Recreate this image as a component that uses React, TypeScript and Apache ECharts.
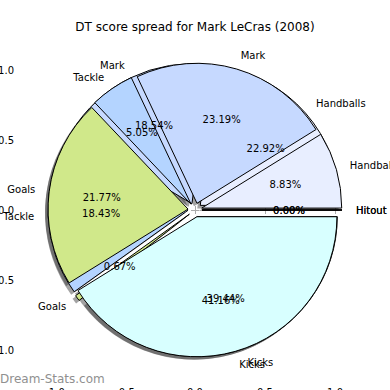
import React, { useEffect, useRef } from "react";
import * as echarts from "echarts";

const categories = ["Hitout", "Handballs", "Mark", "Tackle", "Goals", "Kicks"];
// first pie (drawn underneath)
const pieUnder = [0.0, 22.92, 18.54, 18.43, 0.67, 39.44];
// second pie (drawn on top)
const pieOver = [0.0, 8.83, 23.19, 5.05, 21.77, 41.16];
const sliceColors = ["#ffdede", "#e8eeff", "#c6d9ff", "#b4d4ff", "#d0e88a", "#d8ffff"];
const axisTicks = [-1, -0.5, 0, 0.5, 1];
const titleText = "DT score spread for Mark LeCras (2008)";
const watermarkText = "Dream-Stats.com";

const FONT = "DejaVu Sans";
const CX = 195;
const CY = 210;
const R = 140;
const OFF = 7;

function fmtTick(v: number) {
  return (v < 0 ? "-" : "") + Math.abs(v).toFixed(1);
}

function makeData(vals: number[], withColor: boolean) {
  return categories.map((c, i) => {
    const item: any = { name: c, value: vals[i], selected: true };
    if (withColor) {
      item.itemStyle = { color: sliceColors[i] };
      item.select = { itemStyle: { color: sliceColors[i], borderColor: "#000", borderWidth: 1 } };
    }
    return item;
  });
}

const pieBase = {
  type: "pie",
  startAngle: 0,
  clockwise: false,
  selectedMode: "multiple",
  selectedOffset: OFF,
  avoidLabelOverlap: false,
  stillShowZeroSum: true,
  minShowLabelAngle: 0,
  silent: true,
  emphasis: { disabled: true },
  labelLayout: { hideOverlap: false },
  animation: false,
};

function shadowSeries(vals: number[]) {
  return {
    ...pieBase,
    center: [CX - 3, CY + 3],
    radius: [0, R],
    data: makeData(vals, false),
    itemStyle: { color: "rgba(50,50,50,0.45)", borderWidth: 0 },
    select: { itemStyle: { color: "rgba(50,50,50,0.45)", borderWidth: 0 } },
    label: { show: false },
    labelLine: { show: false },
  };
}

function nameSeries(vals: number[]) {
  return {
    ...pieBase,
    center: [CX, CY],
    radius: [0, R],
    data: makeData(vals, true),
    itemStyle: { borderColor: "#000", borderWidth: 1 },
    label: {
      show: true,
      position: "outside",
      formatter: "{b}",
      fontFamily: FONT,
      fontSize: 10,
      color: "#000",
      width: 90,
      overflow: "none",
      distanceToLabelLine: 0,
    },
    labelLine: { show: false, length: 14, length2: 0 },
  };
}

function pctSeries(vals: number[]) {
  return {
    ...pieBase,
    center: [CX, CY],
    radius: [0, R * 1.2],
    data: makeData(vals, false),
    itemStyle: { color: "transparent", borderWidth: 0 },
    select: { itemStyle: { color: "transparent", borderWidth: 0 } },
    label: {
      show: true,
      position: "inside",
      formatter: (p: any) => Number(p.value).toFixed(2) + "%",
      fontFamily: FONT,
      fontSize: 10,
      color: "#000",
      width: 90,
      overflow: "none",
    },
    labelLine: { show: false },
  };
}

const tickStyle = { show: true, inside: true, length: 4, lineStyle: { color: "#aaaaaa", width: 1 }, customValues: axisTicks };

export default function App() {
  const ref = useRef<HTMLDivElement>(null);
  useEffect(() => {
    if (!ref.current) return;
    const chart = echarts.init(ref.current, null, { renderer: "svg" });
    chart.setOption({
      animation: false,
      backgroundColor: "#ffffff",
      title: {
        text: titleText,
        left: "center",
        top: 16,
        textStyle: { fontFamily: FONT, fontSize: 12, fontWeight: "normal", color: "#000" },
      },
      grid: { left: 20, right: 32, top: 35, bottom: 5, containLabel: false, outerBoundsMode: "none" },
      xAxis: [
        {
          type: "value", position: "bottom", min: -1.25, max: 1.164,
          axisLine: { show: false }, splitLine: { show: false }, axisTick: tickStyle,
          axisLabel: { show: true, margin: 2, fontFamily: FONT, fontSize: 10, color: "#000", customValues: axisTicks, formatter: fmtTick },
        },
        {
          type: "value", position: "top", min: -1.25, max: 1.164,
          axisLine: { show: false }, splitLine: { show: false }, axisTick: tickStyle,
          axisLabel: { show: false },
        },
      ],
      yAxis: [
        {
          type: "value", position: "left", min: -1.25, max: 1.25,
          axisLine: { show: false }, splitLine: { show: false }, axisTick: tickStyle,
          axisLabel: { show: true, margin: 6, fontFamily: FONT, fontSize: 10, color: "#000", customValues: axisTicks, formatter: fmtTick },
        },
        {
          type: "value", position: "right", min: -1.25, max: 1.25,
          axisLine: { show: false }, splitLine: { show: false }, axisTick: tickStyle,
          axisLabel: { show: false },
        },
      ],
      graphic: [
        {
          type: "text",
          left: 0,
          top: 373,
          style: { text: watermarkText, fontFamily: FONT, fontSize: 12, fill: "#909090", fontWeight: "normal" },
        },
      ],
      series: [
        shadowSeries(pieUnder),
        shadowSeries(pieOver),
        nameSeries(pieUnder),
        nameSeries(pieOver),
        pctSeries(pieUnder),
        pctSeries(pieOver),
      ],
    });
    return () => chart.dispose();
  }, []);
  return <div ref={ref} style={{ position: "absolute", left: 0, top: 0, width: 390, height: 390 }} />;
}
